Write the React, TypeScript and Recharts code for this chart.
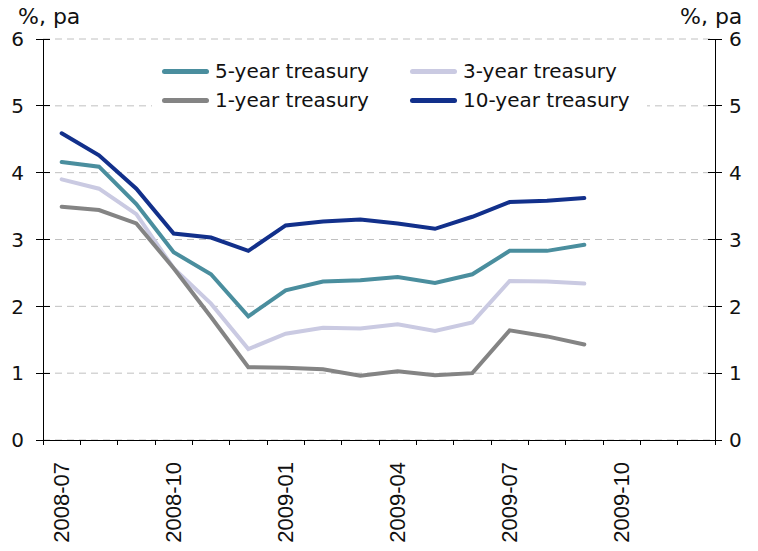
import React from "react";
import { LineChart, Line, XAxis, YAxis, CartesianGrid } from "recharts";

const months = [
  "2008-07", "2008-08", "2008-09", "2008-10", "2008-11", "2008-12",
  "2009-01", "2009-02", "2009-03", "2009-04", "2009-05", "2009-06",
  "2009-07", "2009-08", "2009-09", "2009-10", "2009-11", "2009-12",
];

const tenYear = [4.59, 4.26, 3.76, 3.09, 3.03, 2.83, 3.21, 3.27, 3.3, 3.24, 3.16, 3.34, 3.56, 3.58, 3.62];
const fiveYear = [4.16, 4.09, 3.53, 2.81, 2.48, 1.85, 2.24, 2.37, 2.39, 2.44, 2.35, 2.48, 2.83, 2.83, 2.92];
const threeYear = [3.9, 3.76, 3.38, 2.57, 2.04, 1.36, 1.59, 1.68, 1.67, 1.73, 1.63, 1.76, 2.38, 2.37, 2.34];
const oneYear = [3.49, 3.44, 3.24, 2.57, 1.84, 1.09, 1.08, 1.06, 0.96, 1.03, 0.97, 1.0, 1.64, 1.55, 1.43];

const yTicks = [0, 1, 2, 3, 4, 5, 6];

const series = [
  { key: "y3", name: "3-year treasury", color: "#CACAE2", axis: "left" },
  { key: "y1", name: "1-year treasury", color: "#848484", axis: "left" },
  { key: "y5", name: "5-year treasury", color: "#4A8E9E", axis: "left" },
  { key: "y10", name: "10-year treasury", color: "#12308B", axis: "right" },
];
const legendOrder = ["y5", "y3", "y1", "y10"];

const data = months.map((m, i) => ({
  month: m,
  y10: tenYear[i] ?? null,
  y5: fiveYear[i] ?? null,
  y3: threeYear[i] ?? null,
  y1: oneYear[i] ?? null,
}));

const W = 758;
const H = 551;
const AXIS_W = 43;
const X_AXIS_H = 111;
const TOP = 39;
const PLOT_W = W - 2 * AXIS_W;
const BAND = PLOT_W / months.length;
const INK = "#000";

const tickFont = "'DejaVu Sans', Verdana, sans-serif";
const dateFont = "'Liberation Sans', Arial, sans-serif";

function LeftTick(props: any) {
  const { x, y, payload } = props;
  const ax = x + 19;
  return (
    <g>
      <line x1={ax - 7} x2={ax + 7} y1={y} y2={y} stroke={INK} shapeRendering="crispEdges" />
      <text x={x} y={y} dy="0.36em" textAnchor="end" fontSize={20} fontFamily={tickFont} fill="#111">
        {payload.value}
      </text>
    </g>
  );
}

function RightTick(props: any) {
  const { x, y, payload } = props;
  const ax = x - 14;
  return (
    <g>
      <line x1={ax - 7} x2={ax + 7} y1={y} y2={y} stroke={INK} shapeRendering="crispEdges" />
      <text x={x} y={y} dy="0.36em" textAnchor="start" fontSize={20} fontFamily={tickFont} fill="#111">
        {payload.value}
      </text>
    </g>
  );
}

function DateTick(props: any) {
  const { x, y, payload, index } = props;
  const ay = y - 8;
  const left = x - BAND / 2;
  const last = index === months.length - 1;
  return (
    <g>
      <line x1={left} x2={left} y1={ay} y2={ay + 5} stroke={INK} shapeRendering="crispEdges" />
      {last && (
        <line x1={x + BAND / 2} x2={x + BAND / 2} y1={ay} y2={ay + 5} stroke={INK} shapeRendering="crispEdges" />
      )}
      {index % 3 === 0 && (
        <text
          x={x + 7}
          y={ay + 22}
          transform={`rotate(-90, ${x + 7}, ${ay + 22})`}
          textAnchor="end"
          fontSize={22}
          fontFamily={dateFont}
          fill="#111"
        >
          {payload.value}
        </text>
      )}
    </g>
  );
}

function ChartLegend() {
  return (
    <div
      style={{
        position: "absolute",
        left: 152,
        top: 57,
        width: 495,
        height: 58,
        background: "#fff",
        display: "grid",
        gridTemplateColumns: "248px 247px",
        boxSizing: "border-box",
        paddingLeft: 10,
      }}
    >
      {legendOrder.map((k) => {
        const s = series.find((d) => d.key === k)!;
        return (
          <div key={k} style={{ display: "flex", alignItems: "center", height: 29 }}>
            <div style={{ width: 47, height: 5, borderRadius: 3, background: s.color, marginRight: 6 }} />
            <span style={{ fontFamily: tickFont, fontSize: 20, color: "#111", lineHeight: "29px" }}>{s.name}</span>
          </div>
        );
      })}
    </div>
  );
}

export default function App() {
  const unitStyle: React.CSSProperties = {
    position: "absolute",
    top: 6,
    fontFamily: tickFont,
    fontSize: 22,
    lineHeight: "22px",
    color: "#111",
  };
  const axisLine = { stroke: INK, shapeRendering: "crispEdges" };
  return (
    <div style={{ position: "absolute", left: 0, top: 0, width: W, height: H, background: "#fff" }}>
      <LineChart width={W} height={H} data={data} margin={{ top: TOP, right: 0, left: 0, bottom: 0 }}>
        <CartesianGrid yAxisId="left" vertical={false} stroke="#C0C0C0" strokeDasharray="7 5" />
        <XAxis
          dataKey="month"
          scale="band"
          interval={0}
          height={X_AXIS_H}
          tickSize={8}
          tickMargin={0}
          tickLine={false}
          axisLine={axisLine}
          tick={<DateTick />}
        />
        <YAxis
          yAxisId="left"
          orientation="left"
          type="number"
          domain={[0, 6]}
          ticks={yTicks}
          width={AXIS_W}
          tickSize={7}
          tickMargin={12}
          tickLine={false}
          axisLine={axisLine}
          tick={<LeftTick />}
        />
        <YAxis
          yAxisId="right"
          orientation="right"
          type="number"
          domain={[0, 6]}
          ticks={yTicks}
          width={AXIS_W}
          tickSize={7}
          tickMargin={7}
          tickLine={false}
          axisLine={axisLine}
          tick={<RightTick />}
        />
        {series.map((s) => (
          <Line
            key={s.key}
            yAxisId={s.axis}
            dataKey={s.key}
            name={s.name}
            stroke={s.color}
            strokeWidth={4}
            strokeLinecap="round"
            dot={false}
            activeDot={false}
            type="linear"
            isAnimationActive={false}
          />
        ))}
      </LineChart>
      <ChartLegend />
      <div style={{ ...unitStyle, left: 18 }}>%, pa</div>
      <div style={{ ...unitStyle, left: 680 }}>%, pa</div>
    </div>
  );
}
